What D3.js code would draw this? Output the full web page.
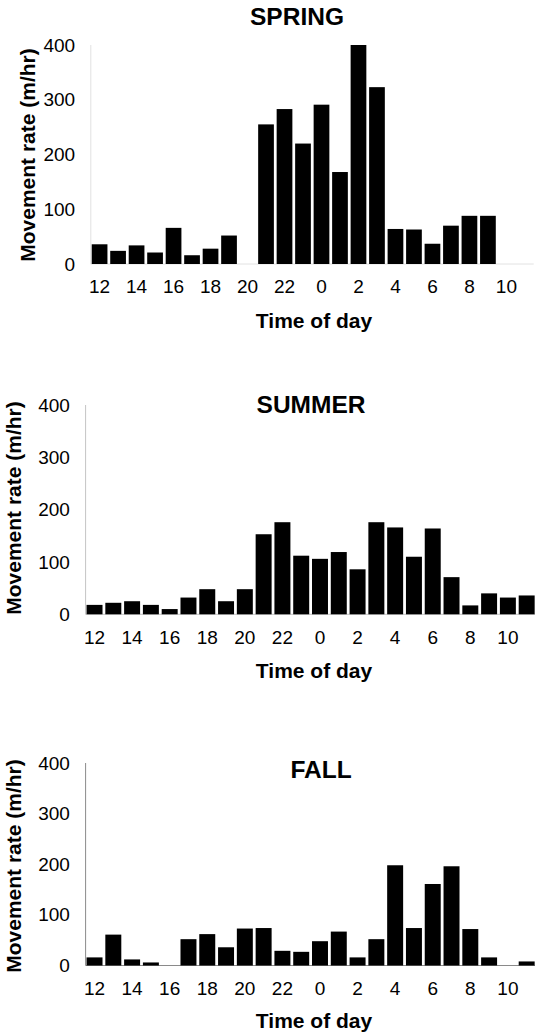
<!DOCTYPE html>
<html>
<head>
<meta charset="utf-8">
<script src="https://cdn.jsdelivr.net/npm/d3@7"></script>
<style>
	body { margin: 0; background: #fff; }
	svg { display: block; font-family: Arial, "Liberation Sans", sans-serif; }
</style>
</head>
<body>
<script>
// hours of day, starting at noon
let hours = [12, 13, 14, 15, 16, 17, 18, 19, 20, 21, 22, 23, 0, 1, 2, 3, 4, 5, 6, 7, 8, 9, 10, 11];
let hourTicks = [12, 14, 16, 18, 20, 22, 0, 2, 4, 6, 8, 10];
let rateTicks = [0, 100, 200, 300, 400];

// movement rate (m/hr)
let springRates = [36, 24, 34, 21, 66, 16, 28, 52, 0, 255, 283, 220, 291, 168, 400, 323, 64, 63, 37, 70, 88, 88, 0, 0];
let summerRates = [18, 22, 25, 18, 10, 32, 48, 25, 48, 153, 176, 112, 106, 119, 86, 176, 166, 110, 164, 71, 17, 40, 32, 36];
let fallRates = [16, 61, 12, 6, 0, 52, 62, 36, 73, 74, 29, 27, 48, 67, 16, 52, 198, 74, 161, 196, 72, 16, 0, 8];

let seasons = ["SPRING", "SUMMER", "FALL"];
let seasonRates = [springRates, summerRates, fallRates];

// panel layout (pixels)
let panels = [
	{x0: 90.8, x1: 533.7, yTop: 45, yBase: 264, titleX: 297, titleY: 25, labelY: 328, yLabX: 35, yLabY: 155, axisCol: "#e2e2e2"},
	{x0: 85.6, x1: 535.6, yTop: 405, yBase: 614.3, titleX: 311, titleY: 413, labelY: 678, yLabX: 21, yLabY: 508, axisCol: "#c4c4c4"},
	{x0: 85.6, x1: 535.6, yTop: 763, yBase: 965.5, titleX: 321, titleY: 778, labelY: 1028, yLabX: 21, yLabY: 866, axisCol: "#8a8a8a"}
];

let width = 535,
	height = 1034;

let svg = d3.select("body").append("svg")
	.attr("width", width)
	.attr("height", height);

panels.forEach((p, i) => {
	let rates = seasonRates[i];

	let x = d3.scaleBand()
		.domain(hours)
		.range([p.x0, p.x1])
		.paddingInner(0.15)
		.paddingOuter(0.05);

	let y = d3.scaleLinear()
		.domain([0, 400])
		.range([p.yBase, p.yTop]);

	let g = svg.append("g");

	// axis lines
	g.append("line")
		.attr("x1", p.x0).attr("x2", p.x0)
		.attr("y1", y(400)).attr("y2", y(0))
		.attr("stroke", p.axisCol)
		.attr("stroke-width", 1);
	g.append("line")
		.attr("x1", p.x0).attr("x2", p.x1)
		.attr("y1", y(0)).attr("y2", y(0))
		.attr("stroke", p.axisCol)
		.attr("stroke-width", 1);

	// bars
	g.selectAll("rect.bar")
		.data(hours.map((h, j) => ({hour: h, rate: rates[j]})))
		.join("rect")
		.attr("class", "bar")
		.attr("x", d => x(d.hour))
		.attr("y", d => y(d.rate))
		.attr("width", x.bandwidth())
		.attr("height", d => y(0) - y(d.rate))
		.attr("fill", "#000");

	// x axis
	let xAxis = g.append("g")
		.attr("transform", `translate(0,${y(0)})`)
		.call(d3.axisBottom(x).tickValues(hourTicks).tickSize(0).tickPadding(16));
	xAxis.select(".domain").remove();
	xAxis.selectAll("text")
		.attr("font-size", 19)
		.attr("font-family", "Arial, 'Liberation Sans', sans-serif")
		.attr("fill", "#000");

	// y axis
	let yAxis = g.append("g")
		.attr("transform", `translate(${p.x0},0)`)
		.call(d3.axisLeft(y).tickValues(rateTicks).tickSize(0).tickPadding(15.7));
	yAxis.select(".domain").remove();
	yAxis.selectAll("text")
		.attr("font-size", 19)
		.attr("font-family", "Arial, 'Liberation Sans', sans-serif")
		.attr("fill", "#000");

	// title
	g.append("text")
		.attr("x", p.titleX)
		.attr("y", p.titleY)
		.attr("text-anchor", "middle")
		.attr("font-size", 24.5)
		.attr("font-weight", "bold")
		.text(seasons[i]);

	// axis titles
	g.append("text")
		.attr("x", 314)
		.attr("y", p.labelY)
		.attr("text-anchor", "middle")
		.attr("font-size", 21)
		.attr("font-weight", "bold")
		.text("Time of day");

	g.append("text")
		.attr("transform", `translate(${p.yLabX},${p.yLabY}) rotate(-90)`)
		.attr("text-anchor", "middle")
		.attr("font-size", 21)
		.attr("font-weight", "bold")
		.text("Movement rate (m/hr)");
});
</script>
</body>
</html>
